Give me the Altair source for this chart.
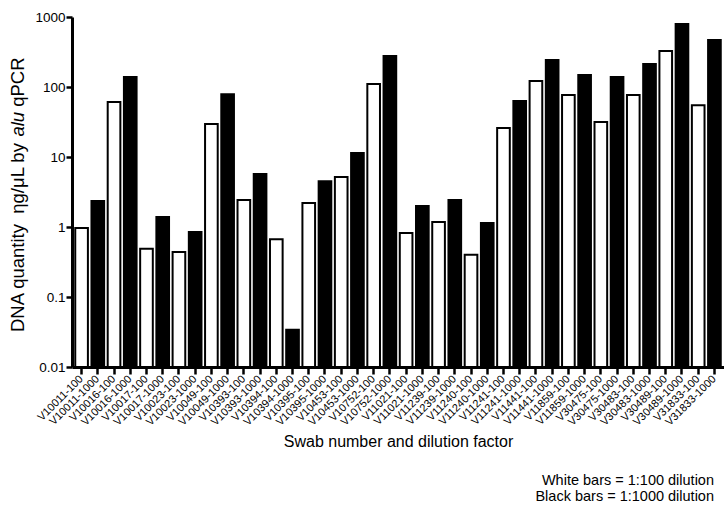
import altair as alt
import pandas as pd

# Swab numbers; each swab was measured at two dilutions
swabs = ["V10011", "V10016", "V10017", "V10023", "V10049", "V10393", "V10394",
         "V10395", "V10453", "V10752", "V11021", "V11239", "V11240", "V11241",
         "V11441", "V11859", "V30475", "V30483", "V30489", "V31833"]

# DNA quantity (ng/uL by alu qPCR) at 1:100 dilution (white bars)
white_100 = [0.97, 61, 0.49, 0.44, 29.6, 2.43, 0.67, 2.2, 5.2, 110,
             0.82, 1.18, 0.40, 26, 122, 77, 31.6, 77, 327, 55]

# DNA quantity at 1:1000 dilution (black bars)
black_1000 = [2.35, 139, 1.39, 0.85, 79, 5.7, 0.034, 4.5, 11.4, 277,
              2.0, 2.43, 1.14, 63, 243, 148, 139, 213, 794, 469]

dilution_names = ["1:100", "1:1000"]
y_ticks = [0.01, 0.1, 1, 10, 100, 1000]
key_lines = ["White bars = 1:100 dilution", "Black bars = 1:1000 dilution"]

rows = []
for s, w, b in zip(swabs, white_100, black_1000):
    rows.append({"label": f"{s}-100", "dilution": dilution_names[0], "value": w})
    rows.append({"label": f"{s}-1000", "dilution": dilution_names[1], "value": b})
df = pd.DataFrame(rows)
order = list(df["label"])

FONT = "Liberation Sans"
W, H = 652, 350

bars = alt.Chart(df).mark_bar(stroke="black", strokeWidth=2).encode(
    x=alt.X(
        "label:N", sort=order,
        scale=alt.Scale(paddingInner=0.22, paddingOuter=0.2),
        axis=alt.Axis(
            title="Swab number and dilution factor",
            titleFont=FONT, titleFontSize=16, titleFontWeight="normal",
            titleColor="black", titleY=74, titleBaseline="middle",
            labelAngle=-45, labelAlign="right", labelBaseline="middle",
            labelFont=FONT, labelFontSize=11, labelColor="black",
            labelPadding=3,
            domainColor="black", domainWidth=3,
            tickColor="black", tickWidth=2.5, tickSize=7,
        ),
    ),
    y=alt.Y(
        "value:Q",
        scale=alt.Scale(type="log", domain=[0.01, 1000], nice=False),
        axis=alt.Axis(
            title=None, values=y_ticks, grid=False,
            labelExpr="format(datum.value, '~g')",
            labelFont=FONT, labelFontSize=13.5, labelColor="black",
            labelPadding=1,
            domainColor="black", domainWidth=3,
            tickColor="black", tickWidth=2.5, tickSize=6,
        ),
    ),
    y2=alt.datum(0.01),
    color=alt.Color(
        "dilution:N",
        scale=alt.Scale(domain=dilution_names, range=["white", "black"]),
        legend=None,
    ),
)

one = pd.DataFrame({"k": [0]})
TITLE_SIZE = 18.5
TITLE_X = -54

# Y-axis title, drawn in pieces so that "alu" can be italic
ytitle_a = alt.Chart(one).mark_text(
    text="DNA quantity\u00a0\u00a0\u03b7g/\u03bcL by", angle=270, align="left",
    baseline="middle", font=FONT, fontSize=TITLE_SIZE, color="black",
).encode(x=alt.value(TITLE_X), y=alt.value(315))

ytitle_b = alt.Chart(one).mark_text(
    text="alu", angle=270, align="left", baseline="middle",
    font=FONT, fontSize=TITLE_SIZE, fontStyle="italic", color="black",
).encode(x=alt.value(TITLE_X), y=alt.value(119.6))

ytitle_c = alt.Chart(one).mark_text(
    text="qPCR", angle=270, align="left", baseline="middle",
    font=FONT, fontSize=TITLE_SIZE, color="black",
).encode(x=alt.value(TITLE_X), y=alt.value(89.8))

# Key to the bar colours, bottom right
note_style = dict(align="right", baseline="middle", font=FONT,
                  fontSize=14.5, color="black")
note1 = alt.Chart(one).mark_text(text=key_lines[0], **note_style).encode(
    x=alt.value(642), y=alt.value(464))
note2 = alt.Chart(one).mark_text(text=key_lines[1], **note_style).encode(
    x=alt.value(642), y=alt.value(480))

chart = alt.layer(bars, ytitle_a, ytitle_b, ytitle_c, note1, note2).properties(
    width=W, height=H,
    autosize=alt.AutoSizeParams(type="none"),
    padding={"left": 72, "top": 17, "right": 0, "bottom": 142},
    background="white",
).configure_view(strokeWidth=0)

chart.save("out.html", embed_options={"renderer": "svg", "actions": False})
